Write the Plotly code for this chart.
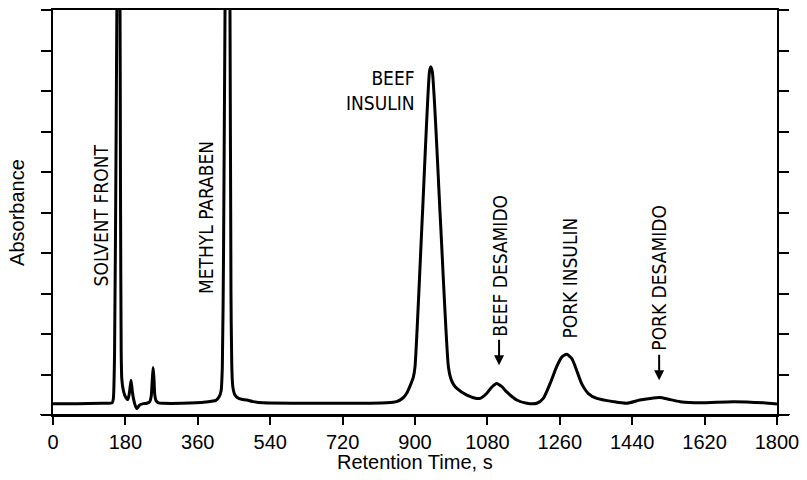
import plotly.graph_objects as go

# Chromatogram trace (retention time in s, absorbance in y-axis tick units)
time_s = [0, 60, 120, 147, 150, 153, 157, 160, 162, 164, 166, 168, 169.5, 171, 175, 180, 186,
          190, 194, 197, 200, 204, 208, 212, 216, 225, 233, 240, 244, 247, 249, 251, 253, 256, 262,
          274, 320, 380, 405, 413, 418, 421, 424, 428, 431, 437, 440, 442.5, 444.5, 447, 452, 460,
          469, 482, 498, 523, 600, 700, 790, 830, 854, 870, 879, 887, 896, 900, 918, 936, 939,
          943, 963, 983, 989, 996, 1004, 1029, 1053, 1062, 1078, 1090, 1103, 1116, 1128, 1153,
          1178, 1203, 1219, 1236, 1252, 1265, 1277, 1290, 1302, 1314, 1331, 1352, 1393, 1426,
          1459, 1485, 1509, 1530, 1559, 1609, 1691, 1766, 1800]
absorbance = [0.28, 0.28, 0.29, 0.30, 0.40, 1.5, 7.0, 12.0, 13.5, 13.5, 12.0, 5.0, 1.6, 0.9, 0.6,
              0.45, 0.38, 0.55, 0.86, 0.6, 0.41, 0.25, 0.16, 0.2, 0.25, 0.28, 0.29, 0.32, 0.45,
              0.9, 1.17, 0.9, 0.5, 0.36, 0.30, 0.29, 0.29, 0.32, 0.36, 0.45, 0.6, 1.2, 4.0, 10.5,
              13.0, 13.0, 10.0, 3.0, 1.2, 0.7, 0.5, 0.42, 0.39, 0.37, 0.33, 0.30, 0.29, 0.29,
              0.29, 0.30, 0.33, 0.42, 0.53, 0.7, 0.94, 1.19, 4.85, 8.48, 8.6, 8.48, 4.85, 1.19,
              0.9, 0.75, 0.66, 0.49, 0.41, 0.41, 0.53, 0.68, 0.78, 0.70, 0.57, 0.37, 0.29, 0.29,
              0.41, 0.78, 1.19, 1.43, 1.5, 1.39, 1.1, 0.78, 0.53, 0.41, 0.33, 0.29, 0.37, 0.41,
              0.43, 0.39, 0.33, 0.30, 0.33, 0.30, 0.27]

x_ticks = [0, 180, 360, 540, 720, 900, 1080, 1260, 1440, 1620, 1800]
y_ticks = [0, 1, 2, 3, 4, 5, 6, 7, 8, 9, 10]

peak_labels = ["SOLVENT FRONT", "METHYL PARABEN", "BEEF DESAMIDO", "PORK INSULIN", "PORK DESAMIDO"]
peak_label_x = [118, 382, 1111, 1283, 1508]
peak_label_y = [4.94, 4.88, 3.68, 3.37, 3.38]

arrow_x = [1109, 1507]
arrow_y = [1.23, 0.86]

x_title = "Retention Time, s"
y_title = "Absorbance"

LABEL_FONT = dict(family="Liberation Sans Narrow, DejaVu Sans Condensed, Arial Narrow, sans-serif",
                  size=19, color="black")
AXIS_FONT = dict(family="Liberation Sans, Arial, Helvetica, sans-serif", size=20, color="black")

fig = go.Figure()
fig.add_trace(go.Scatter(x=time_s, y=absorbance, mode="lines",
                         line=dict(color="black", width=3, shape="spline", smoothing=0.6),
                         showlegend=False, hoverinfo="skip"))

for txt, lx, ly in zip(peak_labels, peak_label_x, peak_label_y):
    fig.add_annotation(x=lx, y=ly, text=txt, textangle=-90, showarrow=False,
                       xanchor="center", yanchor="middle", font=LABEL_FONT)

fig.add_annotation(x=905, y=8.01, text="BEEF<br>INSULIN", showarrow=False, align="right",
                   xanchor="right", yanchor="middle", font=LABEL_FONT)

for axx, axy in zip(arrow_x, arrow_y):
    fig.add_annotation(x=axx, y=axy, text="", showarrow=True, ax=0, ay=-27,
                       arrowhead=2, arrowsize=1, arrowwidth=2, arrowcolor="black")

# x-axis title placed just under the tick labels
fig.add_annotation(xref="paper", yref="paper", x=0.5, y=0, yshift=-47, text=x_title,
                   showarrow=False, xanchor="center", yanchor="middle",
                   font=dict(AXIS_FONT, size=20))

# bottom axis line overhang
fig.add_shape(type="line", xref="paper", yref="y", x0=-0.018, x1=1.018, y0=0, y1=0,
              line=dict(color="black", width=2))

fig.update_layout(
    width=807, height=480,
    margin=dict(l=53, r=30, t=8, b=65),
    paper_bgcolor="white", plot_bgcolor="white",
    font=AXIS_FONT,
    xaxis=dict(range=[0, 1800], tickvals=x_ticks, ticktext=[str(v) for v in x_ticks],
               showline=True, linecolor="black", linewidth=2, mirror=True,
               ticks="outside", ticklen=8, tickwidth=2, tickcolor="black",
               showgrid=False, zeroline=False, tickfont=AXIS_FONT),
    yaxis=dict(range=[0, 10], tickvals=y_ticks, showticklabels=False,
               showline=True, linecolor="black", linewidth=2, mirror="ticks",
               ticks="outside", ticklen=10, tickwidth=2, tickcolor="black",
               showgrid=False, zeroline=False,
               title=dict(text=y_title, font=AXIS_FONT, standoff=11)),
)

fig.write_html("out.html", config={"displayModeBar": False},
               post_script="document.body.style.margin='0';")
